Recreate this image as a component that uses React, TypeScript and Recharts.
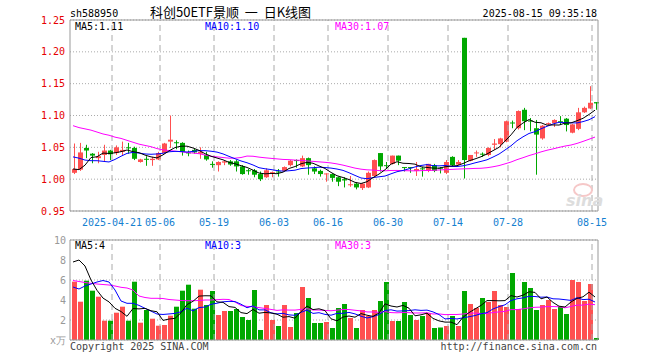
import React from "react";
import { ComposedChart, Bar, Line, XAxis, YAxis, CartesianGrid, ReferenceLine } from "recharts";

const MONO = "'DejaVu Sans Mono', monospace";
const CJK = "'Noto Sans CJK SC', sans-serif";
const UP = "#ff5050";
const DOWN = "#00a800";
const GRID = "#aaaaaa";
const BORDER = "#999999";

// 交易日(2025)
const dates = [
  "04-10", "04-11", "04-14", "04-15", "04-16", "04-17", "04-18", "04-21", "04-22", "04-23",
  "04-24", "04-25", "04-28", "04-29", "04-30", "05-06", "05-07", "05-08", "05-09", "05-12",
  "05-13", "05-14", "05-15", "05-16", "05-19", "05-20", "05-21", "05-22", "05-23", "05-26",
  "05-27", "05-28", "05-29", "05-30", "06-03", "06-04", "06-05", "06-06", "06-09", "06-10",
  "06-11", "06-12", "06-13", "06-16", "06-17", "06-18", "06-19", "06-20", "06-23", "06-24",
  "06-25", "06-26", "06-27", "06-30", "07-01", "07-02", "07-03", "07-04", "07-07", "07-08",
  "07-09", "07-10", "07-11", "07-14", "07-15", "07-16", "07-17", "07-18", "07-21", "07-22",
  "07-23", "07-24", "07-25", "07-28", "07-29", "07-30", "07-31", "08-01", "08-04", "08-05",
  "08-06", "08-07", "08-08", "08-11", "08-12", "08-13", "08-14", "08-15",
];

const open = [
  1.010, 1.015, 1.049, 1.040, 1.033, 1.038, 1.045, 1.041, 1.043, 1.050,
  1.049, 1.027, 1.032, 1.030, 1.031, 1.041, 1.059, 1.058, 1.057, 1.042,
  1.046, 1.040, 1.038, 1.024, 1.022, 1.026, 1.028, 1.028, 1.020, 1.014,
  1.014, 1.008, 1.003, 1.009, 1.012, 1.013, 1.022, 1.030, 1.020, 1.033,
  1.017, 1.013, 1.008, 1.008, 1.003, 1.000, 0.991, 0.993, 0.986, 0.987,
  1.005, 1.041, 1.022, 1.024, 1.037, 1.019, 1.019, 1.013, 1.017, 1.013,
  1.022, 1.018, 1.010, 1.035, 1.023, 1.222, 1.029, 1.041, 1.040, 1.038,
  1.054, 1.055, 1.059, 1.089, 1.080, 1.109, 1.092, 1.080, 1.064, 1.086,
  1.088, 1.091, 1.095, 1.073, 1.079, 1.105, 1.111, 1.121,
];
const high = [
  1.056, 1.057, 1.054, 1.041, 1.043, 1.054, 1.046, 1.053, 1.059, 1.057,
  1.051, 1.032, 1.036, 1.035, 1.043, 1.057, 1.100, 1.061, 1.058, 1.045,
  1.048, 1.050, 1.043, 1.028, 1.028, 1.029, 1.030, 1.030, 1.022, 1.016,
  1.016, 1.012, 1.017, 1.012, 1.016, 1.020, 1.030, 1.031, 1.037, 1.034,
  1.020, 1.015, 1.009, 1.009, 1.004, 1.003, 1.005, 0.995, 0.994, 1.012,
  1.031, 1.041, 1.027, 1.037, 1.037, 1.019, 1.019, 1.027, 1.019, 1.024,
  1.024, 1.019, 1.030, 1.036, 1.030, 1.222, 1.038, 1.045, 1.042, 1.050,
  1.063, 1.065, 1.092, 1.092, 1.108, 1.112, 1.096, 1.093, 1.085, 1.089,
  1.094, 1.099, 1.096, 1.087, 1.112, 1.114, 1.146, 1.121,
];
const low = [
  1.008, 1.013, 1.033, 1.025, 1.025, 1.028, 1.030, 1.038, 1.038, 1.040,
  1.030, 1.026, 1.021, 1.021, 1.030, 1.040, 1.049, 1.047, 1.037, 1.036,
  1.040, 1.032, 1.029, 1.018, 1.012, 1.022, 1.021, 1.012, 1.007, 1.007,
  1.003, 0.997, 1.002, 1.003, 1.004, 1.012, 1.020, 1.018, 1.019, 1.007,
  1.008, 1.004, 0.996, 0.996, 0.989, 0.987, 0.988, 0.984, 0.983, 0.986,
  1.004, 1.012, 1.016, 1.023, 1.022, 1.012, 1.010, 1.005, 1.004, 1.011,
  1.011, 1.009, 1.008, 1.020, 1.022, 1.001, 1.028, 1.035, 1.035, 1.036,
  1.046, 1.050, 1.058, 1.080, 1.078, 1.077, 1.075, 1.007, 1.062, 1.085,
  1.082, 1.085, 1.075, 1.072, 1.077, 1.104, 1.110, 1.109,
];
const close = [
  1.016, 1.042, 1.045, 1.037, 1.036, 1.045, 1.039, 1.050, 1.046, 1.049,
  1.032, 1.031, 1.031, 1.032, 1.041, 1.056, 1.062, 1.057, 1.043, 1.041,
  1.042, 1.043, 1.031, 1.023, 1.027, 1.028, 1.023, 1.020, 1.008, 1.013,
  1.007, 1.000, 1.014, 1.011, 1.011, 1.019, 1.029, 1.029, 1.033, 1.022,
  1.012, 1.008, 1.009, 1.002, 0.996, 0.998, 0.992, 0.987, 0.993, 1.010,
  1.030, 1.020, 1.021, 1.037, 1.029, 1.018, 1.018, 1.016, 1.016, 1.024,
  1.013, 1.017, 1.027, 1.022, 1.027, 1.030, 1.038, 1.042, 1.039, 1.049,
  1.056, 1.064, 1.091, 1.088, 1.107, 1.091, 1.091, 1.070, 1.084, 1.088,
  1.093, 1.090, 1.085, 1.086, 1.105, 1.112, 1.120, 1.119,
];
// 成交量(万手)
const volume = [
  5.83, 3.83, 5.93, 4.93, 4.33, 1.93, 1.93, 2.73, 3.33, 1.93,
  5.83, 1.73, 3.0, 2.13, 1.43, 1.5, 2.43, 3.33, 4.93, 5.53,
  3.13, 5.03, 3.5, 4.9, 2.5, 2.9, 2.9, 3.1, 2.3, 2.0,
  5.0, 1.0, 3.5, 2.0, 1.4, 3.5, 1.3, 2.7, 5.3, 4.2,
  1.7, 1.7, 1.8, 1.2, 3.2, 3.6, 2.2, 1.2, 3.0, 2.4,
  3.0, 3.9, 5.8, 1.9, 1.9, 3.8, 2.5, 2.0, 2.4, 2.7,
  1.2, 1.25, 1.4, 2.4, 1.4, 4.9, 3.6, 3.2, 4.2, 3.8,
  4.9, 3.5, 3.3, 6.7, 3.1, 5.8, 5.2, 3.0, 3.5, 4.0,
  3.1, 3.3, 2.6, 6.0, 5.8, 3.9, 5.6, 0.2,
];

// 画面左端より前の期間を含む均線値
const ma5Lead = [1.016, 1.015, 1.022, 1.034];
const ma10Lead = [1.035, 1.033, 1.030, 1.029, 1.029, 1.028, 1.027, 1.031, 1.036];
const ma30Lead = [
  1.084, 1.081, 1.079, 1.077, 1.074, 1.071, 1.069, 1.066, 1.064, 1.061,
  1.058, 1.055, 1.053, 1.051, 1.048, 1.046, 1.045, 1.044, 1.043, 1.042,
  1.041, 1.040, 1.038, 1.036, 1.035, 1.034, 1.033, 1.033, 1.034,
];
const volMa5Lead = [7.8, 8.0, 7.4, 6.0];
const volMa10Lead = [5.3, 5.1, 5.4, 5.6, 5.8, 5.95, 5.8, 5.0, 3.9];
const volMa30Lead = [
  5.95, 5.85, 5.75, 5.67, 5.6, 5.55, 5.5, 5.4, 5.27, 5.2,
  5.0, 4.4, 4.25, 4.17, 4.17, 4.15, 4.05, 4.0, 3.95, 3.93,
  3.93, 3.95, 4.0, 4.0, 4.03, 4.07, 4.05, 3.8, 3.45,
];

const dateTicks = ["04-21", "05-06", "05-19", "06-03", "06-16", "06-30", "07-14", "07-28", "08-15"];
const priceTicks = [0.95, 1.0, 1.05, 1.1, 1.15, 1.2, 1.25];
const volTicks = [0, 2, 4, 6, 8, 10];

const PLOT_LEFT = 70;
const PLOT_RIGHT = 598;

function movingAvg(values: number[], n: number, lead: number[]) {
  return values.map((_, i) => {
    if (i < n - 1) return lead[i];
    let s = 0;
    for (let k = i - n + 1; k <= i; k++) s += values[k];
    return s / n;
  });
}

const ma5 = movingAvg(close, 5, ma5Lead);
const ma10 = movingAvg(close, 10, ma10Lead);
const ma30 = movingAvg(close, 30, ma30Lead);
const vma5 = movingAvg(volume, 5, volMa5Lead);
const vma10 = movingAvg(volume, 10, volMa10Lead);
const vma30 = movingAvg(volume, 30, volMa30Lead);

const data = dates.map((d, i) => ({
  date: d,
  open: open[i],
  high: high[i],
  low: low[i],
  close: close[i],
  range: [low[i], high[i]],
  vol: volume[i],
  ma5: ma5[i],
  ma10: ma10[i],
  ma30: ma30[i],
  vma5: vma5[i],
  vma10: vma10[i],
  vma30: vma30[i],
}));

function Candle(props: any) {
  const { x, y, width, height, payload } = props;
  const top = Math.min(y, y + height);
  const h = Math.abs(height);
  const span = payload.high - payload.low;
  const toY = (p: number) => (span > 0 ? top + ((payload.high - p) / span) * h : top);
  const cx = Math.round(x + width / 2);
  const color = payload.close >= payload.open ? UP : DOWN;
  const bTop = toY(Math.max(payload.open, payload.close));
  const bBot = toY(Math.min(payload.open, payload.close));
  return (
    <g>
      <line x1={cx + 0.5} x2={cx + 0.5} y1={top} y2={top + Math.max(h, 1)} stroke={color} strokeWidth={1} />
      <rect x={cx - 2} y={bTop} width={5} height={Math.max(1, bBot - bTop)} fill={color} />
    </g>
  );
}

function VolBar(props: any) {
  const { x, y, width, height, payload } = props;
  const cx = Math.round(x + width / 2);
  const color = payload.close >= payload.open ? UP : DOWN;
  return <rect x={cx - 2} y={y} width={5} height={Math.max(0, height)} fill={color} />;
}

function DateTick(props: any) {
  const { x, y, payload } = props;
  const bw = (PLOT_RIGHT - PLOT_LEFT) / dates.length;
  const label = payload.value === dateTicks[0] ? `2025-${payload.value}` : payload.value;
  return (
    <text x={x - bw / 2} y={y} dy="0.71em" textAnchor="middle" fill="#1580d0" fontSize={10} fontFamily={MONO}>
      {label}
    </text>
  );
}

export default function App() {
  return (
    <div style={{ position: "absolute", left: 0, top: 0, width: 660, height: 360, background: "#fff" }}>
      <div style={{ position: "absolute", left: 0, top: 0 }}>
        <ComposedChart width={660} height={232} data={data} margin={{ top: 20, right: 660 - PLOT_RIGHT, bottom: 0, left: 0 }}>
          <CartesianGrid vertical={false} stroke={GRID} strokeDasharray="1 2" />
          <XAxis
            dataKey="date"
            ticks={dateTicks}
            interval={0}
            height={21}
            tickLine={false}
            axisLine={{ stroke: BORDER }}
            tick={<DateTick />}
          />
          <YAxis
            type="number"
            domain={[0.95, 1.25]}
            ticks={priceTicks}
            width={PLOT_LEFT}
            tickLine={false}
            tickSize={3}
            tickMargin={2}
            axisLine={{ stroke: BORDER }}
            tickFormatter={(v: number) => v.toFixed(2)}
            tick={{ fill: "#e60000", fontSize: 10, fontFamily: MONO }}
          />
          {dateTicks.map((d) => (
            <ReferenceLine key={d} x={d} position="start" stroke={GRID} strokeDasharray="6 4" />
          ))}
          <ReferenceLine y={1.25} stroke={BORDER} />
          <ReferenceLine x={dates[dates.length - 1]} position="end" stroke={BORDER} />
          <Bar dataKey="range" barSize={5} shape={<Candle />} isAnimationActive={false} />
          <Line type="linear" dataKey="ma30" stroke="#ff00ff" strokeWidth={1} dot={false} isAnimationActive={false} />
          <Line type="linear" dataKey="ma10" stroke="#0000ff" strokeWidth={1} dot={false} isAnimationActive={false} />
          <Line type="linear" dataKey="ma5" stroke="#000000" strokeWidth={1} dot={false} isAnimationActive={false} />
        </ComposedChart>
      </div>
      <div style={{ position: "absolute", left: 0, top: 230 }}>
        <ComposedChart width={660} height={130} data={data} margin={{ top: 10, right: 660 - PLOT_RIGHT, bottom: 20, left: 0 }}>
          <CartesianGrid vertical={false} stroke={GRID} strokeDasharray="1 2" />
          <XAxis dataKey="date" hide />
          <YAxis
            type="number"
            domain={[0, 10]}
            ticks={volTicks}
            width={PLOT_LEFT}
            tickLine={false}
            tickSize={2}
            tickMargin={2}
            axisLine={{ stroke: BORDER }}
            tickFormatter={(v: number) => (v === 0 ? "x万" : String(v))}
            tick={{ fill: "#999999", fontSize: 10, fontFamily: MONO }}
          />
          {dateTicks.map((d) => (
            <ReferenceLine key={d} x={d} position="start" stroke={GRID} strokeDasharray="6 4" />
          ))}
          <ReferenceLine y={10} stroke={BORDER} />
          <ReferenceLine y={0} stroke={BORDER} />
          <ReferenceLine x={dates[dates.length - 1]} position="end" stroke={BORDER} />
          <Bar dataKey="vol" barSize={5} shape={<VolBar />} isAnimationActive={false} />
          <Line type="linear" dataKey="vma30" stroke="#ff00ff" strokeWidth={1} dot={false} isAnimationActive={false} />
          <Line type="linear" dataKey="vma10" stroke="#0000ff" strokeWidth={1} dot={false} isAnimationActive={false} />
          <Line type="linear" dataKey="vma5" stroke="#000000" strokeWidth={1} dot={false} isAnimationActive={false} />
        </ComposedChart>
      </div>
      <svg width={660} height={360} style={{ position: "absolute", left: 0, top: 0, pointerEvents: "none" }}>
        <text x={70} y={17} fontSize={10} fontFamily={MONO} fill="#000">sh588950</text>
        <text x={150} y={17} fontSize={13} fontFamily={CJK} fill="#000" style={{ whiteSpace: "pre" }}>
          {"科创50ETF景顺  一  日K线图"}
        </text>
        <text x={597} y={17} fontSize={10} fontFamily={MONO} fill="#000" textAnchor="end">2025-08-15 09:35:18</text>
        <text x={75} y={30} fontSize={10} fontFamily={MONO} fill="#000">MA5:1.11</text>
        <text x={205} y={30} fontSize={10} fontFamily={MONO} fill="#0000ff">MA10:1.10</text>
        <text x={335} y={30} fontSize={10} fontFamily={MONO} fill="#ff00ff">MA30:1.07</text>
        <text x={75} y={249} fontSize={10} fontFamily={MONO} fill="#000">MA5:4</text>
        <text x={205} y={249} fontSize={10} fontFamily={MONO} fill="#0000ff">MA10:3</text>
        <text x={335} y={249} fontSize={10} fontFamily={MONO} fill="#ff00ff">MA30:3</text>
        <ellipse cx={583} cy={190} rx={9} ry={6} fill="none" stroke="#f6c8c8" strokeWidth={2} />
        <text x={566} y={206} fontSize={16} fontStyle="italic" fontWeight="bold" fontFamily="'DejaVu Sans', sans-serif" fill="#dddddd">sina</text>
        <text x={70} y={350} fontSize={10} fontFamily={MONO} fill="#444">Copyright 2025 SINA.COM</text>
        <text x={597} y={350} fontSize={10} fontFamily={MONO} fill="#444" textAnchor="end">http://finance.sina.com.cn</text>
      </svg>
    </div>
  );
}
